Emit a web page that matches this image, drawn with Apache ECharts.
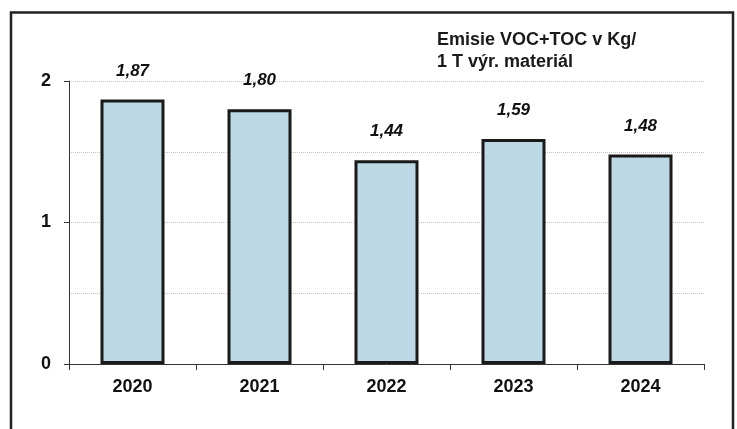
<!DOCTYPE html>
<html><head><meta charset="utf-8">
<script src="https://cdn.jsdelivr.net/npm/echarts@6/dist/echarts.min.js"></script>
<style>html,body{margin:0;padding:0;background:#fff}#c{width:737px;height:429px}</style>
</head><body><div id="c"></div>
<script>
const categories = ['2020', '2021', '2022', '2023', '2024'];
const values = [1.87, 1.80, 1.44, 1.59, 1.48];
const titleLines = ['Emisie VOC+TOC v Kg/', '1 T výr. materiál'];

const chart = echarts.init(document.getElementById('c'), null, {renderer: 'canvas'});
chart.setOption({
  animation: false,
  backgroundColor: '#ffffff',
  textStyle: {fontFamily: 'Liberation Sans, Arial, sans-serif'},
  graphic: [
    {type: 'rect', shape: {x: 11, y: 12.5, width: 722, height: 430},
     style: {fill: 'none', stroke: '#222', lineWidth: 2.5}, z: 100},
    {type: 'text', left: 437, top: 29,
     style: {text: titleLines.join('\n'), font: 'bold 18px "Liberation Sans", Arial, sans-serif', fill: '#1a1a1a', lineHeight: 22}}
  ],
  grid: {left: 69, right: 33, top: 81, bottom: 65, containLabel: false},
  xAxis: {
    type: 'category', data: categories,
    axisLine: {lineStyle: {color: '#333', width: 1}},
    axisTick: {show: true, length: 6, lineStyle: {color: '#333'}},
    axisLabel: {color: '#111', fontWeight: 'bold', fontSize: 18, margin: 14}
  },
  yAxis: {
    type: 'value', min: 0, max: 2, interval: 1,
    axisLine: {show: true, lineStyle: {color: '#333', width: 1}},
    axisTick: {show: true, length: 5, lineStyle: {color: '#333'}},
    axisLabel: {color: '#111', fontWeight: 'bold', fontSize: 18, margin: 18},
    splitLine: {show: true, lineStyle: {color: '#c4c4c4', type: 'dotted', width: 1}},
    minorTick: {show: false, splitNumber: 2},
    minorSplitLine: {show: true, lineStyle: {color: '#c4c4c4', type: 'dotted', width: 1}}
  },
  series: [{
    type: 'bar', data: values, barWidth: 64,
    itemStyle: {color: '#bcd8e4', borderColor: '#1a1a1a', borderWidth: 3},
    label: {show: true, position: 'top', distance: 20,
      formatter: p => p.value.toFixed(2).replace('.', ','),
      fontStyle: 'italic', fontWeight: 'bold', fontSize: 17, color: '#111'}
  }]
});
</script></body></html>
